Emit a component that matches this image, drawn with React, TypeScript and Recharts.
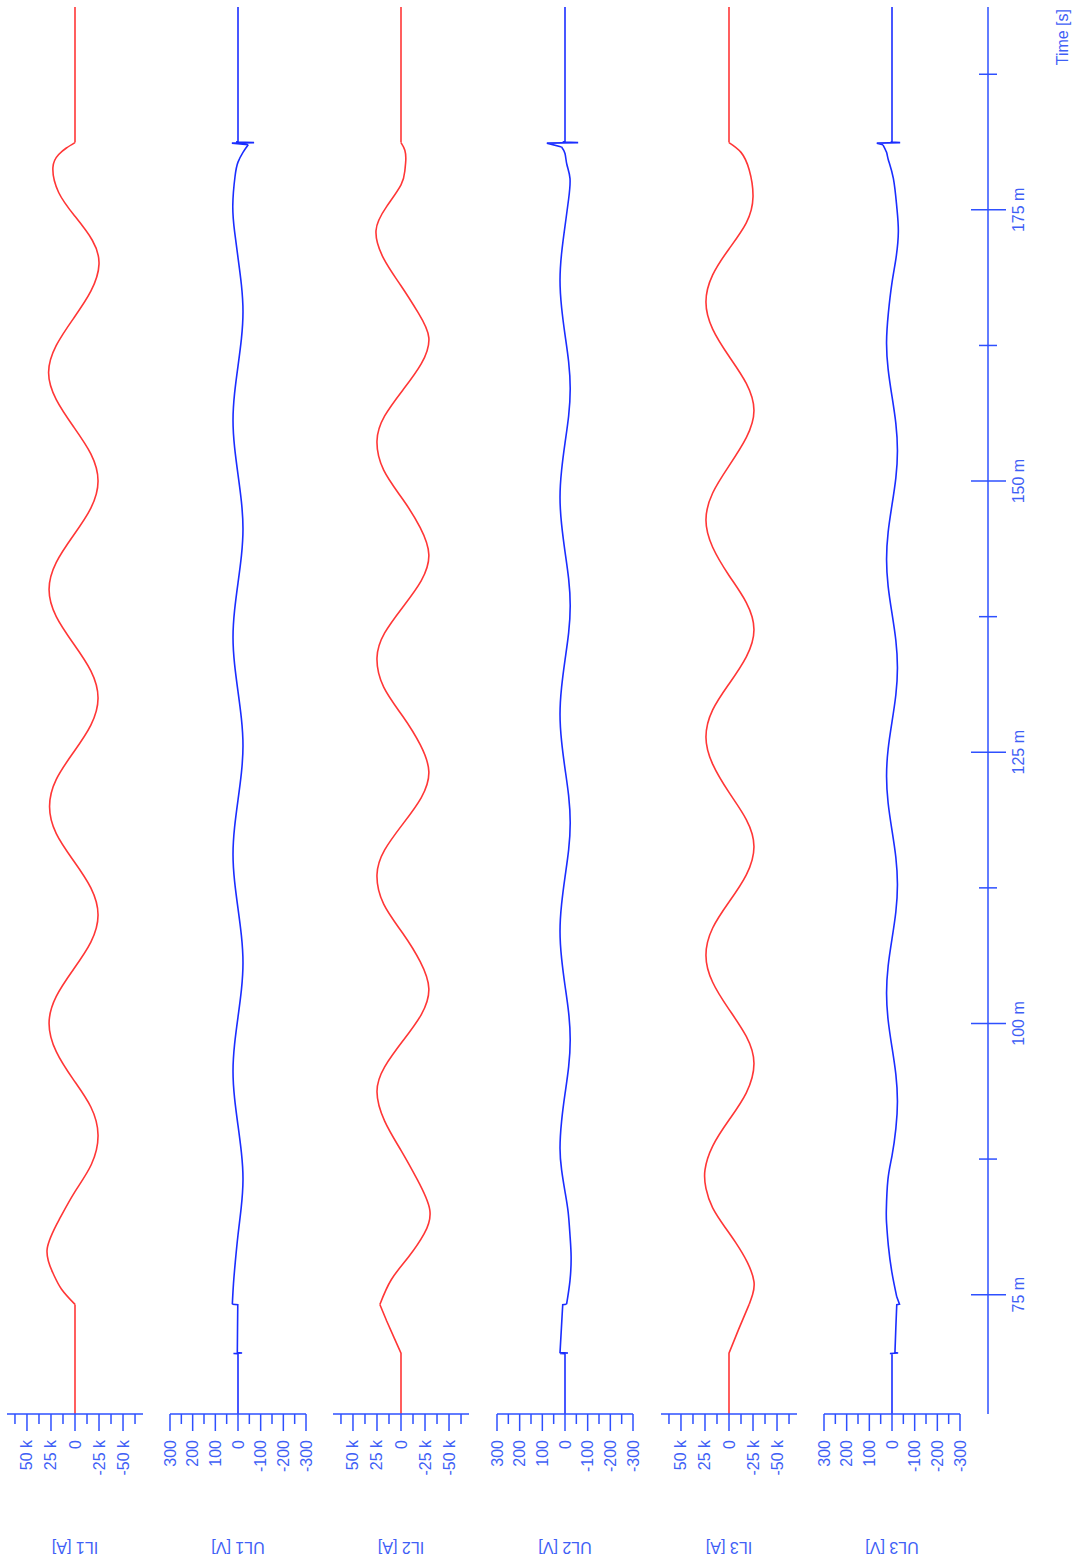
import React from 'react';
import { LineChart, Line, XAxis, YAxis } from 'recharts';

// ---------- data (time in ms, currents in kA, voltages in V) ----------
const T_START = 64;
const T_END = 193.7;

const IL1_T = [64, 74.1, 75.5, 77, 79.2, 82, 84.5, 87, 89.7, 92.3, 94.8, 97.4, 100, 102.5, 105, 107.5, 110, 112.5, 115, 117.5, 120, 122.5, 125, 127.5, 130, 132.5, 135, 137.5, 140, 142.5, 145, 147.5, 150, 152.5, 155, 157.5, 160, 162.5, 165, 167.5, 170, 172.2, 174.4, 176.6, 178.9, 180.1, 180.7, 181.2, 193.7];
const IL1_V = [0, 0, 14, 23, 29, 16, 0, -17, -24, -16.5, 1.5, 19.5, 27, 19.5, 1.5, -16.5, -24, -16.5, 1.5, 19.5, 26.5, 19.5, 1.5, -16.5, -24, -16.5, 1.5, 19.5, 27, 19.5, 1.5, -16.5, -24, -16.5, 1.5, 19.5, 27.5, 19.5, 1.5, -16.5, -25, -18, 0, 17, 23, 17, 9, 0, 0];

const UL1_T = [64, 69.55, 69.58, 69.62, 69.66, 72, 74.08, 74.12, 76, 78, 80.5, 83, 85.6, 88.1, 90.6, 93.1, 95.6, 98.1, 100.6, 103.1, 105.6, 108.1, 110.6, 113.1, 115.6, 118.1, 120.6, 123.1, 125.6, 128.1, 130.6, 133.1, 135.6, 138.1, 140.6, 143.1, 145.6, 148.1, 150.6, 153.1, 155.6, 158.1, 160.6, 163.1, 165.6, 168.1, 170.6, 173, 175.4, 178.1, 179.4, 180.3, 181.0, 181.15, 181.2, 181.25, 181.3, 193.7];
const UL1_V = [0, 0, 20, -18, 3, 2, 1, 25, 20, 12, 0, -14, -22, -15, 0, 15, 22, 15, 0, -15, -22, -15, 0, 15, 22, 15, 0, -15, -22, -15, 0, 15, 22, 15, 0, -15, -22, -15, 0, 15, 22, 15, 0, -15, -22, -15, 0, 15, 23, 13, 0, -22, -45, 27, -71, 8, 0, 0];

const IL2_T = [64, 69.6, 71, 72.6, 74.1, 76.4, 78.5, 80.6, 82.8, 85.6, 88.3, 91, 93.7, 96, 98.4, 100.8, 103.2, 105.7, 108.3, 111, 113.7, 116, 118.4, 120.8, 123.2, 125.7, 128.3, 131, 133.7, 136, 138.4, 140.8, 143.2, 145.7, 148.3, 151, 153.7, 156, 158.4, 160.8, 163.2, 165.5, 168, 170.5, 173.1, 175.3, 177.3, 178.6, 179.6, 180.5, 181.2, 193.7];
const IL2_V = [0, 0, 7, 15, 22, 10, -8, -24, -30, -17, 0, 17, 25, 17, -2, -21, -29, -20, -2, 18, 25, 17, -2, -21, -29, -20, -2, 18, 25, 17, -2, -21, -29, -20, -2, 18, 25, 17, -2, -21, -29, -18, 0, 18, 26, 15, 0, -4, -5, -4, 0, 0];

const UL2_T = [64, 69.55, 69.58, 69.62, 69.66, 71.5, 73, 74.08, 74.12, 76.3, 78.5, 80.5, 82.6, 84.5, 86.5, 88.5, 91, 93.5, 96, 98.5, 101, 103.5, 106, 108.5, 111, 113.5, 116, 118.5, 121, 123.5, 126, 128.5, 131, 133.5, 136, 138.5, 141, 143.5, 146, 148.5, 151, 153.5, 156, 158.5, 161, 163.5, 166, 168.5, 171, 173.5, 176, 177.9, 179.2, 180.2, 180.8, 181.15, 181.2, 181.25, 181.3, 193.7];
const UL2_V = [0, 0, 22, -13, 22, 17, 13, 10, -7, -22, -27, -22, -14, 0, 15, 22, 15, 0, -16, -23, -16, 0, 15, 22, 15, 0, -16, -23, -16, 0, 15, 22, 15, 0, -16, -23, -16, 0, 15, 22, 15, 0, -16, -23, -16, 0, 15, 22, 15, 0, -16, -22, -8, 0, 15, 80, -58, 10, 0, 0];

const IL3_T = [64, 69.6, 71.8, 74.1, 75, 76.2, 78, 79.8, 81.2, 83, 84.8, 86.5, 88.7, 91.1, 93.6, 96.3, 98.8, 101.3, 103.8, 106.3, 108.8, 111.2, 113.7, 116.3, 118.8, 121.3, 123.9, 126.4, 128.9, 131.3, 133.8, 136.3, 138.8, 141.3, 143.9, 146.4, 148.9, 151.4, 154, 156.5, 159, 161.5, 164, 166.5, 169, 171.4, 173.8, 176.2, 178.7, 180.3, 181.2, 193.7];
const IL3_V = [0, 0, -10, -21, -24.5, -26, -19, -7, 4, 17, 24, 25, 17, 0, -18, -26, -18, 0, 17, 24, 17, 0, -18, -26, -18, 0, 17, 24, 17, 0, -18, -26, -18, 0, 17, 24, 17, 0, -18, -26, -18, 0, 17, 24, 17, 0, -18, -25, -21, -12.5, 0, 0];

const UL3_T = [64, 69.55, 69.58, 69.62, 69.66, 72, 74.08, 74.12, 74.8, 77, 79.5, 81.6, 82.8, 85.6, 87.8, 90.3, 92.8, 95.3, 97.8, 100.3, 102.8, 105.3, 107.8, 110.3, 112.8, 115.3, 117.8, 120.3, 122.8, 125.3, 127.8, 130.3, 132.8, 135.3, 137.8, 140.3, 142.8, 145.3, 147.8, 150.3, 152.8, 155.3, 157.8, 160.3, 162.8, 165.5, 168.3, 170.6, 173, 175.3, 177.9, 179.6, 180.3, 181.0, 181.15, 181.2, 181.25, 181.3, 193.7];
const UL3_V = [0, 0, 9, -27, -13, -17, -21, -33, -21, 0, 16, 24, 25, 18, 0, -17, -24, -17, 0, 17, 24, 17, 0, -17, -24, -17, 0, 17, 24, 17, 0, -17, -24, -17, 0, 17, 24, 17, 0, -17, -24, -17, 0, 17, 24, 16, 0, -18, -28, -21, -6, 16, 24, 40, 67, -36, 5, 0, 0];

// time window of each channel in which the trace is a smooth wave (outside: steps / spikes)
const SMOOTH_FROM = [74.1, 74.12, 74.1, 74.12, 74.1, 74.8];
const SMOOTH_TO = [181.2, 181.0, 181.2, 180.8, 181.2, 181.0];

const TIME_TICKS = [75, 87.5, 100, 112.5, 125, 137.5, 150, 162.5, 175, 187.5];
const TIME_LABELS = ['75 m', '', '100 m', '', '125 m', '', '150 m', '', '175 m', ''];

const IL_TICKS = [-62.5, -50, -37.5, -25, -12.5, 0, 12.5, 25, 37.5, 50, 62.5];
const IL_LABELS = ['', '-50 k', '', '-25 k', '', '0', '', '25 k', '', '50 k', ''];
const UL_TICKS = [-300, -250, -200, -150, -100, -50, 0, 50, 100, 150, 200, 250, 300];
const UL_LABELS = ['-300', '', '-200', '', '-100', '', '0', '', '100', '', '200', '', '300'];

const CHANNEL_NAMES = ['IL1 [A]', 'UL1 [V]', 'IL2 [A]', 'UL2 [V]', 'IL3 [A]', 'UL3 [V]'];

// ---------- style ----------
const AXIS = '#2e50ff';
const TEXT = '#3f5ff6';
const RED = '#ff3636';
const BLUE = '#1a2dff';
const FONT = 'Arial, "Liberation Sans", Roboto, Helvetica, sans-serif';
const FS = 16;
const W = 1562;
const PANEL_H = 136;
const PAD = 14;
const PLOT_LEFT = 148;
const PLOT_RIGHT_MARGIN = 7;

const CHANNELS = [
  { name: CHANNEL_NAMES[0], t: IL1_T, v: IL1_V, kind: 'I', top: 7 },
  { name: CHANNEL_NAMES[1], t: UL1_T, v: UL1_V, kind: 'U', top: 170 },
  { name: CHANNEL_NAMES[2], t: IL2_T, v: IL2_V, kind: 'I', top: 333 },
  { name: CHANNEL_NAMES[3], t: UL2_T, v: UL2_V, kind: 'U', top: 497 },
  { name: CHANNEL_NAMES[4], t: IL3_T, v: IL3_V, kind: 'I', top: 661 },
  { name: CHANNEL_NAMES[5], t: UL3_T, v: UL3_V, kind: 'U', top: 824 },
];

function YTick(props: any) {
  const { x, y, payload, ticks, labels } = props;
  const idx = ticks.indexOf(payload.value);
  const lab = idx >= 0 ? labels[idx] : '';
  const major = lab !== '';
  return (
    <g>
      <line x1={x} x2={x - (major ? 17 : 10)} y1={y} y2={y} stroke={AXIS} strokeWidth={1.5} />
      {major && (
        <text x={x - 26} y={y} textAnchor="end" dominantBaseline="central" fontSize={FS} fill={TEXT} fontFamily={FONT}>
          {lab}
        </text>
      )}
    </g>
  );
}

function XTick(props: any) {
  const { x, y, payload } = props;
  const idx = TIME_TICKS.indexOf(payload.value);
  const lab = idx >= 0 ? TIME_LABELS[idx] : '';
  const major = lab !== '';
  return (
    <g>
      <line x1={x} x2={x} y1={y - (major ? 17 : 9)} y2={y + (major ? 18 : 9)} stroke={AXIS} strokeWidth={1.5} />
      {major && (
        <text x={x} y={y + 36} textAnchor="middle" fontSize={FS} fill={TEXT} fontFamily={FONT}>
          {lab}
        </text>
      )}
    </g>
  );
}

function ChannelLabel(props: any) {
  const vb = props.viewBox || {};
  const cy = (typeof vb.y === 'number' ? vb.y : PAD) + (typeof vb.height === 'number' ? vb.height : PANEL_H) / 2;
  return (
    <text
      x={15}
      y={cy}
      transform={`rotate(-90, 15, ${cy})`}
      textAnchor="middle"
      dominantBaseline="central"
      fontSize={FS}
      fill={TEXT}
      fontFamily={FONT}
    >
      {props.text}
    </text>
  );
}

function TimeLabel(props: any) {
  const vb = props.viewBox || {};
  const xr = (vb.x ?? PLOT_LEFT) + (vb.width ?? W - PLOT_LEFT - PLOT_RIGHT_MARGIN);
  const y0 = vb.y ?? 88;
  return (
    <text x={xr - 2} y={y0 + 80} textAnchor="end" fontSize={FS} fill={TEXT} fontFamily={FONT}>
      Time [s]
    </text>
  );
}

function Panel({ ch, idx }: { ch: any; idx: number }) {
  const all = ch.t.map((t: number, i: number) => ({ t, v: ch.v[i] }));
  const a = SMOOTH_FROM[idx];
  const b = SMOOTH_TO[idx];
  const pre = all.filter((d: any) => d.t <= a);
  const mid = all.filter((d: any) => d.t >= a && d.t <= b);
  const post = all.filter((d: any) => d.t >= b);
  const isI = ch.kind === 'I';
  const ticks = isI ? IL_TICKS : UL_TICKS;
  const labels = isI ? IL_LABELS : UL_LABELS;
  const color = isI ? RED : BLUE;
  return (
    <div style={{ position: 'absolute', left: 0, top: ch.top - PAD }}>
      <LineChart width={W} height={PANEL_H + 2 * PAD} data={all} margin={{ top: PAD, right: PLOT_RIGHT_MARGIN, bottom: PAD, left: 0 }}>
        <XAxis type="number" dataKey="t" domain={[T_START, T_END]} hide allowDataOverflow />
        <YAxis
          type="number"
          domain={isI ? [-70.8, 70.8] : [-300, 300]}
          ticks={ticks}
          interval={0}
          width={PLOT_LEFT}
          tickSize={0}
          tickMargin={0}
          tickLine={false}
          axisLine={{ stroke: AXIS, strokeWidth: 1.5 }}
          tick={<YTick ticks={ticks} labels={labels} />}
          label={<ChannelLabel text={ch.name} />}
          allowDataOverflow
        />
        <Line data={pre} type="linear" dataKey="v" stroke={color} strokeWidth={1.6} dot={false} activeDot={false} isAnimationActive={false} />
        <Line data={mid} type="natural" dataKey="v" stroke={color} strokeWidth={1.6} dot={false} activeDot={false} isAnimationActive={false} />
        <Line data={post} type="linear" dataKey="v" stroke={color} strokeWidth={1.6} dot={false} activeDot={false} isAnimationActive={false} />
      </LineChart>
    </div>
  );
}

function TimeAxis() {
  const data = TIME_TICKS.map((t) => ({ t }));
  return (
    <div style={{ position: 'absolute', left: 0, top: 900 }}>
      <LineChart width={W} height={180} data={data} margin={{ top: 0, right: PLOT_RIGHT_MARGIN, bottom: 0, left: PLOT_LEFT }}>
        <XAxis
          type="number"
          dataKey="t"
          domain={[T_START, T_END]}
          ticks={TIME_TICKS}
          interval={0}
          height={92}
          tickSize={0}
          tickMargin={0}
          tickLine={false}
          axisLine={{ stroke: AXIS, strokeWidth: 1.5 }}
          tick={<XTick />}
          label={<TimeLabel />}
          allowDataOverflow
        />
        <YAxis hide domain={[0, 1]} />
        <Line dataKey="z" stroke="none" dot={false} isAnimationActive={false} />
      </LineChart>
    </div>
  );
}

export default function App() {
  return (
    <div style={{ position: 'absolute', left: 0, top: 0, width: 1080, height: 1562, overflow: 'hidden', background: '#fff' }}>
      <div
        style={{
          position: 'absolute',
          left: 0,
          top: 0,
          width: W,
          height: 1080,
          transformOrigin: '0 0',
          transform: 'translate(0px, 1562px) rotate(-90deg)',
        }}
      >
        {CHANNELS.map((ch, i) => (
          <Panel key={ch.name} ch={ch} idx={i} />
        ))}
        <TimeAxis />
      </div>
    </div>
  );
}
